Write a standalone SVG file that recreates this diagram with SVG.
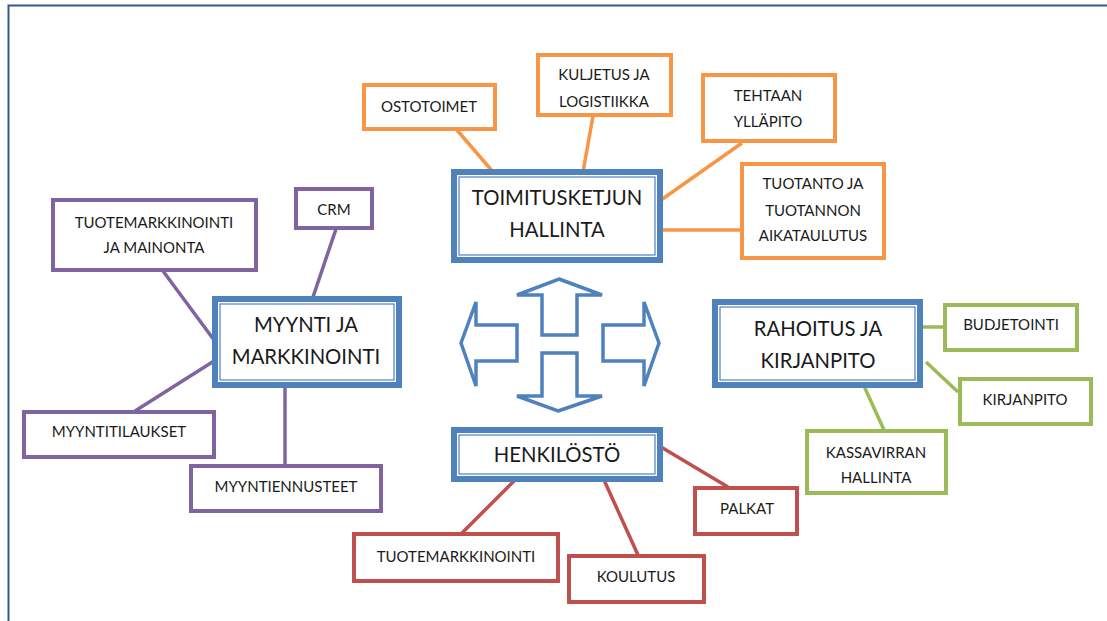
<svg xmlns="http://www.w3.org/2000/svg" width="1107" height="621" viewBox="0 0 1107 621">
  <style>
    .frame { fill: none; stroke: #2f5b92; stroke-width: 2; }
    .main-outer { fill: #ffffff; stroke: #4f81bd; stroke-width: 6; }
    .main-inner { fill: none; stroke: #4f81bd; stroke-width: 1.2; }
    .box { fill: #ffffff; stroke-width: 4; }
    .orange { stroke: #f79646; }
    .purple { stroke: #8064a2; }
    .green { stroke: #9bbb59; }
    .red { stroke: #c0504d; }
    .link { fill: none; stroke-width: 3.5; }
    .arrow { fill: #ffffff; stroke: #4f81bd; stroke-width: 3.5; stroke-linejoin: miter; }
    text { font-family: Lato, "Liberation Sans", sans-serif; fill: #1a1a1a; text-anchor: middle; }
    .big { font-size: 20.3px; }
    .small { font-size: 15px; }
  </style>

  <!-- page frame -->
  <path class="frame" d="M8.5 621 V5.5 H1107"/>

  <!-- connectors -->
  <g id="connectors">
    <line class="link orange" x1="457" y1="130" x2="493" y2="172"/>
    <line class="link orange" x1="593" y1="116" x2="583" y2="172"/>
    <line class="link orange" x1="742" y1="143" x2="661" y2="200"/>
    <line class="link orange" x1="741" y1="230" x2="661" y2="230"/>

    <line class="link purple" x1="336" y1="229" x2="313" y2="297"/>
    <line class="link purple" x1="163" y1="271" x2="214" y2="340"/>
    <line class="link purple" x1="135" y1="411" x2="214" y2="361"/>
    <line class="link purple" x1="285" y1="465" x2="285" y2="387"/>

    <line class="link green" x1="921" y1="327" x2="944" y2="327"/>
    <line class="link green" x1="926" y1="362" x2="958" y2="392"/>
    <line class="link green" x1="864" y1="386" x2="884" y2="430"/>

    <line class="link red" x1="515" y1="480" x2="462" y2="533"/>
    <line class="link red" x1="604" y1="480" x2="638" y2="555"/>
    <line class="link red" x1="661" y1="447" x2="728" y2="487"/>
  </g>

  <!-- four-way block arrows -->
  <g id="arrows">
    <polygon class="arrow" points="559,279 602,295 577,295 577,335 542,335 542,295 517,295"/>
    <polygon class="arrow" points="558,411 602,396 577,396 577,353 542,353 542,396 517,396"/>
    <polygon class="arrow" points="461,343 476,302 476,325 517,325 517,361 476,361 476,386"/>
    <polygon class="arrow" points="659,343 644,302 644,325 603,325 603,361 644,361 644,386"/>
  </g>

  <!-- central hubs -->
  <g id="toimitusketjun-hallinta">
    <rect class="main-outer" x="454" y="172" width="206" height="88"/>
    <rect class="main-inner" x="459" y="177" width="196" height="78"/>
    <text class="big" x="557" y="205">TOIMITUSKETJUN</text>
    <text class="big" x="557" y="237">HALLINTA</text>
  </g>

  <g id="myynti-ja-markkinointi">
    <rect class="main-outer" x="215" y="299" width="184" height="86"/>
    <rect class="main-inner" x="220" y="304" width="174" height="76"/>
    <text class="big" x="306" y="332">MYYNTI JA</text>
    <text class="big" x="306" y="364">MARKKINOINTI</text>
  </g>

  <g id="rahoitus-ja-kirjanpito">
    <rect class="main-outer" x="715" y="302" width="205" height="83"/>
    <rect class="main-inner" x="720" y="307" width="195" height="73"/>
    <text class="big" x="818" y="336">RAHOITUS JA</text>
    <text class="big" x="818" y="368">KIRJANPITO</text>
  </g>

  <g id="henkilosto">
    <rect class="main-outer" x="454" y="430" width="206" height="49"/>
    <rect class="main-inner" x="459" y="435" width="196" height="39"/>
    <text class="big" x="557" y="462">HENKILÖSTÖ</text>
  </g>

  <!-- supply chain topics -->
  <g id="ostotoimet">
    <rect class="box orange" x="364" y="85" width="131" height="44"/>
    <text class="small" x="429" y="112">OSTOTOIMET</text>
  </g>
  <g id="kuljetus-ja-logistiikka">
    <rect class="box orange" x="538" y="55" width="133" height="60"/>
    <text class="small" x="604" y="80">KULJETUS JA</text>
    <text class="small" x="604" y="107">LOGISTIIKKA</text>
  </g>
  <g id="tehtaan-yllapito">
    <rect class="box orange" x="703" y="75" width="132" height="66"/>
    <text class="small" x="768" y="101">TEHTAAN</text>
    <text class="small" x="768" y="127">YLLÄPITO</text>
  </g>
  <g id="tuotanto">
    <rect class="box orange" x="742" y="164" width="142" height="94"/>
    <text class="small" x="813" y="189">TUOTANTO JA</text>
    <text class="small" x="813" y="216">TUOTANNON</text>
    <text class="small" x="813" y="241">AIKATAULUTUS</text>
  </g>

  <!-- sales topics -->
  <g id="tuotemarkkinointi-ja-mainonta">
    <rect class="box purple" x="53" y="200" width="203" height="70"/>
    <text class="small" x="154" y="228">TUOTEMARKKINOINTI</text>
    <text class="small" x="154" y="253">JA MAINONTA</text>
  </g>
  <g id="crm">
    <rect class="box purple" x="296" y="189" width="76" height="39"/>
    <text class="small" x="334" y="215">CRM</text>
  </g>
  <g id="myyntitilaukset">
    <rect class="box purple" x="24" y="412" width="190" height="45"/>
    <text class="small" x="119" y="437">MYYNTITILAUKSET</text>
  </g>
  <g id="myyntiennusteet">
    <rect class="box purple" x="191" y="466" width="190" height="45"/>
    <text class="small" x="286" y="492">MYYNTIENNUSTEET</text>
  </g>

  <!-- finance topics -->
  <g id="budjetointi">
    <rect class="box green" x="945" y="305" width="132" height="45"/>
    <text class="small" x="1011" y="330">BUDJETOINTI</text>
  </g>
  <g id="kirjanpito">
    <rect class="box green" x="960" y="379" width="131" height="45"/>
    <text class="small" x="1025" y="405">KIRJANPITO</text>
  </g>
  <g id="kassavirran-hallinta">
    <rect class="box green" x="807" y="431" width="139" height="62"/>
    <text class="small" x="876" y="458">KASSAVIRRAN</text>
    <text class="small" x="876" y="483">HALLINTA</text>
  </g>

  <!-- personnel topics -->
  <g id="tuotemarkkinointi">
    <rect class="box red" x="354" y="534" width="204" height="47"/>
    <text class="small" x="456" y="562">TUOTEMARKKINOINTI</text>
  </g>
  <g id="koulutus">
    <rect class="box red" x="569" y="556" width="135" height="46"/>
    <text class="small" x="636" y="582">KOULUTUS</text>
  </g>
  <g id="palkat">
    <rect class="box red" x="695" y="488" width="102" height="46"/>
    <text class="small" x="747" y="514">PALKAT</text>
  </g>
</svg>
